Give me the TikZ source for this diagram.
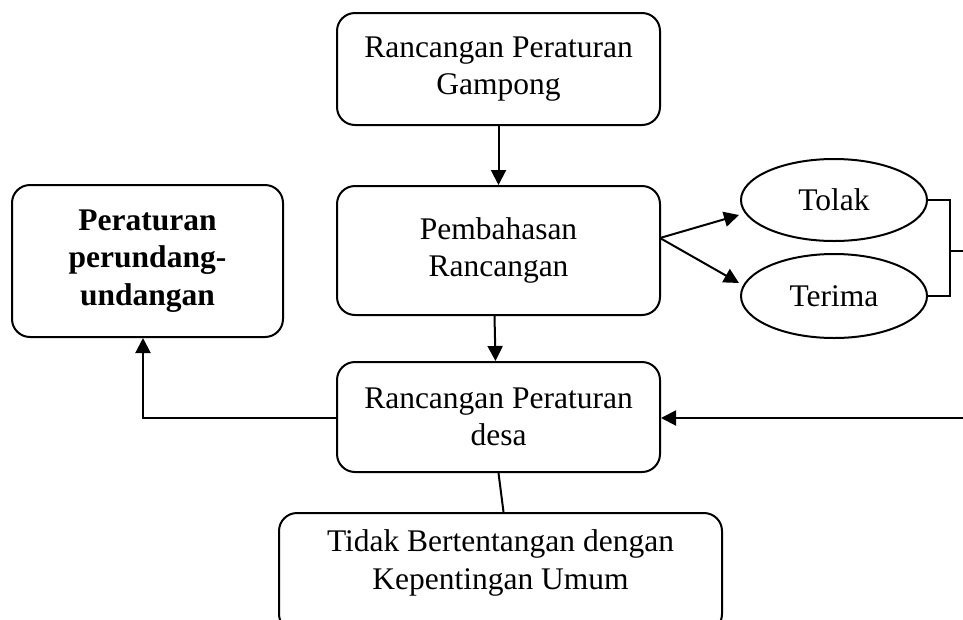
\documentclass[tikz,border=0pt]{standalone}
\usepackage{fontspec}
\setmainfont{Liberation Serif}
\usetikzlibrary{shapes.geometric,arrows.meta}
\begin{document}
\begin{tikzpicture}[x=1pt,y=-1pt,
  every node/.style={font=\fontsize{31.5}{37.5}\selectfont, align=center, inner sep=0pt},
  rbox/.style={draw, line width=2pt, rounded corners=18pt},
  oval/.style={draw, line width=2pt, ellipse},
  conn/.style={line width=2pt},
  arr/.style={line width=2pt, -{Triangle[length=15pt,width=15pt]}}]
\useasboundingbox (0,0) rectangle (963,619);
\node[rbox, minimum width=323pt, minimum height=112pt] (gampong) at (498.5,69) {Rancangan Peraturan\\Gampong};
\node[rbox, minimum width=323pt, minimum height=129pt] (bahas) at (498.5,250.5) {Pembahasan\\Rancangan};
\node[rbox, minimum width=323pt, minimum height=110pt] (desa) at (498.5,417) {Rancangan Peraturan\\desa};
\node[rbox, minimum width=271pt, minimum height=152pt, font=\fontsize{31.5}{37.5}\selectfont\bfseries] (uu) at (147.5,261) {Peraturan\\perundang-\\undangan};
\node[oval, minimum width=186pt, minimum height=82pt] (tolak) at (834,200) {Tolak};
\node[oval, minimum width=186pt, minimum height=84pt] (terima) at (834,296) {Terima};
\node[rbox, minimum width=443pt, minimum height=119pt] (tidak) at (500.5,572.5) {};
\node (tidaktext) at (500.5,563) {Tidak Bertentangan dengan\\Kepentingan Umum};
\coordinate (bj) at (950,251);
\coordinate (rightend) at (963,251);
\coordinate (fb) at (963,418);
\coordinate (corner) at (143,418);
\coordinate (split) at (660,238);
\draw[arr] (gampong.south) -- (bahas.north);
\draw[arr] ([xshift=-4pt]bahas.south) -- ([xshift=-3pt]desa.north);
\draw[arr] (split) -- ([xshift=-1pt]tolak.west |- 0,215);
\draw[arr] (split) -- ([xshift=-1pt]terima.west |- 0,283);
\draw[conn] (tolak.east) -| (bj) |- (terima.east);
\draw[conn] (bj) -- (rightend);
\draw[arr] (fb) -- (desa.east |- fb);
\draw[arr] (desa.west |- corner) -- (corner) -- (corner |- uu.south);
\draw[conn] (desa.south) -- ([xshift=3pt]tidak.north);
\end{tikzpicture}
\end{document}
